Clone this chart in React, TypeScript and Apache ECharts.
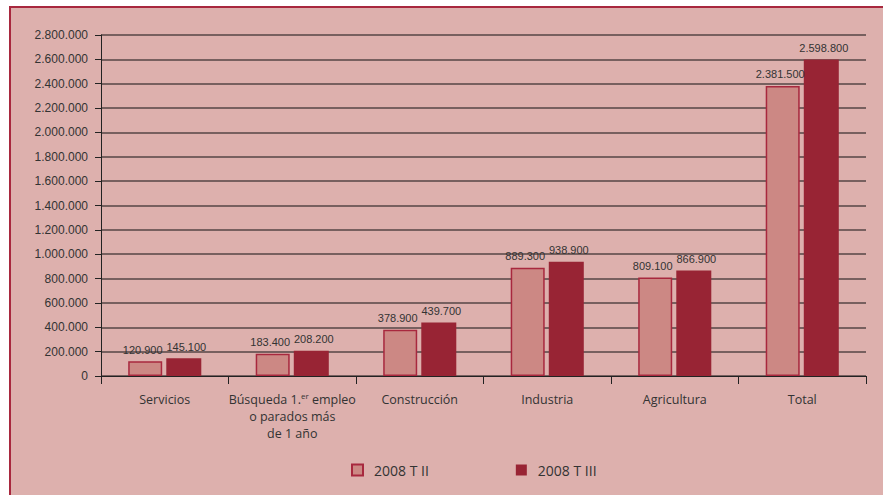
import React, { useEffect, useRef } from "react";
import * as echarts from "echarts";

const categories = [
  "Servicios",
  "Búsqueda 1.{sup|er} empleo\no parados más\nde 1 año",
  "Construcción",
  "Industria",
  "Agricultura",
  "Total",
];
const seriesNames = ["2008 T II", "2008 T III"];
const t2Values = [120900, 183400, 378900, 889300, 809100, 2381500];
const t3Values = [145100, 208200, 439700, 938900, 866900, 2598800];

const fmt = (v: number) => String(Math.round(v)).replace(/\B(?=(\d{3})+(?!\d))/g, ".");

const numFont = '"Liberation Sans", Arial, sans-serif';

export default function App() {
  const ref = useRef<HTMLDivElement>(null);
  useEffect(() => {
    const chart = echarts.init(ref.current!, undefined, { renderer: "svg" });
    chart.setOption({
      animation: false,
      backgroundColor: "#ffffff",
      graphic: [
        {
          type: "rect",
          z: -10,
          silent: true,
          shape: { x: 10, y: 7, width: 900, height: 600 },
          style: { fill: "#ddb0ad", stroke: "#a8283e", lineWidth: 2 },
        },
      ],
      grid: { left: 101, top: 35, right: 17, bottom: 119, containLabel: false },
      legend: {
        left: 351,
        top: 463,
        padding: 0,
        icon: "rect",
        itemWidth: 11,
        itemHeight: 11,
        itemGap: 87,
        textStyle: {
          fontSize: 14,
          color: "#333",
          fontFamily: '"Open Sans", sans-serif',
          padding: [0, 0, 0, 6],
        },
        data: seriesNames,
      },
      xAxis: {
        type: "category",
        data: categories,
        axisLine: { lineStyle: { color: "#222", width: 1 } },
        axisTick: { show: true, length: 8, lineStyle: { color: "#222" } },
        axisLabel: {
          interval: 0,
          margin: 15,
          fontSize: 12.5,
          lineHeight: 17,
          color: "#333",
          fontFamily: '"Open Sans", sans-serif',
          rich: {
            sup: { fontSize: 8, verticalAlign: "top", lineHeight: 12, color: "#333" },
          },
        },
      },
      yAxis: {
        type: "value",
        min: 0,
        max: 2800000,
        interval: 200000,
        axisLine: { show: true, lineStyle: { color: "#222", width: 1 } },
        axisTick: { show: true, length: 6, lineStyle: { color: "#222" } },
        axisLabel: {
          fontSize: 12,
          color: "#333",
          margin: 13,
          fontFamily: numFont,
          formatter: (v: number) => fmt(v),
        },
        splitLine: { lineStyle: { color: "#554646", width: 1.5 } },
      },
      series: [
        {
          name: seriesNames[0],
          type: "bar",
          data: t2Values,
          barWidth: 34,
          barGap: "12%",
          itemStyle: { color: "#cc8884", borderColor: "#a8283e", borderWidth: 1.5 },
          label: {
            show: true,
            position: "top",
            distance: 6,
            offset: [-2.5, 0],
            fontSize: 11,
            color: "#333",
            fontFamily: numFont,
            formatter: (p: any) => fmt(p.value),
          },
        },
        {
          name: seriesNames[1],
          type: "bar",
          data: t3Values,
          barWidth: 35,
          itemStyle: { color: "#982434" },
          label: {
            show: true,
            position: "top",
            distance: 6,
            offset: [2.5, 0],
            fontSize: 11,
            color: "#333",
            fontFamily: numFont,
            formatter: (p: any) => fmt(p.value),
          },
        },
      ],
    });
    return () => chart.dispose();
  }, []);
  return (
    <div
      ref={ref}
      style={{ position: "absolute", left: 0, top: 0, width: 883, height: 495 }}
    />
  );
}
